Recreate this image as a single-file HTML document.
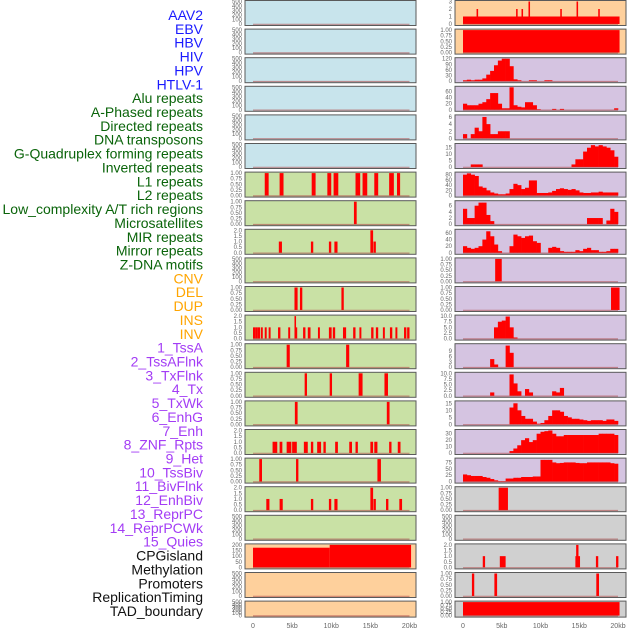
<!DOCTYPE html>
<html><head><meta charset="utf-8"><style>
html,body{margin:0;padding:0;background:#fff;width:630px;height:630px;overflow:hidden}
svg{display:block}
</style></head><body>
<svg id="chart" width="630" height="630" viewBox="0 0 630 630" xmlns="http://www.w3.org/2000/svg"></svg>
<script>
const labels=["AAV2","EBV","HBV","HIV","HPV","HTLV-1","Alu repeats","A-Phased repeats","Directed repeats","DNA transposons","G-Quadruplex forming repeats","Inverted repeats","L1 repeats","L2 repeats","Low_complexity A/T rich regions","Microsatellites","MIR repeats","Mirror repeats","Z-DNA motifs","CNV","DEL","DUP","INS","INV","1_TssA","2_TssAFlnk","3_TxFlnk","4_Tx","5_TxWk","6_EnhG","7_Enh","8_ZNF_Rpts","9_Het","10_TssBiv","11_BivFlnk","12_EnhBiv","13_ReprPC","14_ReprPCWk","15_Quies","CPGisland","Methylation","Promoters","ReplicationTiming","TAD_boundary"];
const groups=["virus","virus","virus","virus","virus","virus","repeat","repeat","repeat","repeat","repeat","repeat","repeat","repeat","repeat","repeat","repeat","repeat","repeat","sv","sv","sv","sv","sv","chrom","chrom","chrom","chrom","chrom","chrom","chrom","chrom","chrom","chrom","chrom","chrom","chrom","chrom","chrom","other","other","other","other","other"];
const xTicks=[0,5,10,15,20];
const xTickLabels=["0","5kb","10kb","15kb","20kb"];
const binWidthKb=0.5;
const yMax=[500,500,500,500,500,500, 1,1,2,500,1,2,1,1,1,2,1,2,500, 200,500,500,
 3,1,120,74,6.3,17.5,86,7.3,68,1,1,10,12.5,10,16,35,88, 1,500,2,1,1];
const yTicks=[
 [0,100,200,300,400,500],[0,100,200,300,400,500],[0,100,200,300,400,500],[0,100,200,300,400,500],[0,100,200,300,400,500],[0,100,200,300,400,500],
 [0,0.25,0.5,0.75,1],[0,0.25,0.5,0.75,1],[0,0.5,1,1.5,2],[0,100,200,300,400,500],[0,0.25,0.5,0.75,1],[0,0.5,1,1.5,2],[0,0.25,0.5,0.75,1],[0,0.25,0.5,0.75,1],[0,0.25,0.5,0.75,1],[0,0.5,1,1.5,2],[0,0.25,0.5,0.75,1],[0,0.5,1,1.5,2],[0,100,200,300,400,500],
 [0,50,100,150,200],[0,100,200,300,400,500],[0,100,200,300,400,500],
 [0,1,2,3],[0,0.25,0.5,0.75,1],[0,30,60,90,120],[0,20,40,60],[0,2,4,6],[0,5,10,15],[0,20,40,60,80],[0,2,4,6],[0,20,40,60],[0,0.25,0.5,0.75,1],[0,0.25,0.5,0.75,1],[0,2.5,5,7.5,10],[0,3,6,9],[0,2.5,5,7.5,10],[0,5,10,15],[0,10,20,30],[0,25,50,75],
 [0,0.25,0.5,0.75,1],[0,100,200,300,400,500],[0,0.5,1,1.5,2],[0,0.25,0.5,0.75,1],[0,0.25,0.5,0.75,1]];
const histTssA=[5,8,5,8,8,15,35,55,85,110,120,120,80,10,5,0,0,5,5,0,0,5,5,0,0,0,0,0,0,0,0,0,0,0,0,0,0,0,0,0];
const histTssAFlnk=[20,15,15,15,20,25,35,55,55,20,5,5,75,15,10,8,25,25,15,2,0,0,0,3,0,3,0,0,0,0,0,0,0,0,0,0,0,0,0,5];
const histTxFlnk=[1.2,0,1.2,3,2,6,4,1.2,1.2,2,2,2,0,0,0,0,0,0,0,0,0,0,0,0,0,0,0,0,0,0,0,0,0,0,0,0,0,0,0,0];
const histTx=[0,0,2,2,2,0,0,0,0,0,0,0,0,0,0,0,0,0,0,0,0,0,0,0,0,0,0,0,2,6,6,12,15,17,16,17,16,15,13,8];
const histTxWk=[80,85,80,75,35,30,20,12,8,5,5,8,25,45,40,25,30,58,58,10,10,10,12,18,25,28,25,22,25,20,12,10,10,12,12,15,12,12,12,12];
const histEnhG=[5,2,2,6,7,7,3,1,0,0,0,0,0,0,0,0,0,0,0,0,0,0,0,0,0,0,0,0,0,0,0,0,2,2,2,2,0,1.2,5,4];
const histEnh=[20,15,12,15,20,40,65,50,25,5,0,0,20,55,50,45,50,52,35,30,0,0,15,18,15,5,3,3,3,8,5,12,15,8,8,3,3,5,12,12];
const histHet=[0,0,0,0,0,0,0,0,5,7.5,8,9.8,5,0.5,0,0,0,0,0,0,0,0,0,0,0,0,0,0,0,0,0,0,0,0,0,0,0,0,0,0];
const histTssBiv=[0,0,0,0,0,0,0,4.5,1.5,0,0,12,8,0,0,0,0,0,0,0,0,0,0,0,0,0,0,0,0,0,0,0,0,0,0,0,0,0,0,0];
const histBivFlnk=[0,0,0,0,0,0,0,1.5,0,0,0,0,9.5,5.5,2,0,3,1.5,0,0,0,0,0,2,1.5,3.5,0,0,0,0,0,0,0,0,0,0,0,0,0,0];
const histEnhBiv=[0,0,0,0,0,0,0,0,0,0,0,0,12,15,10,6,4,4,2,0.5,1,3,6,10,10,9,6,5,4,4,3.5,3,2.5,3,3,3,2.5,3.5,3.5,2.5];
const histReprPC=[0,0,0,0,0,0,0,0,0,0,0,0,3,7,12,20,23,17,20,30,33,34,35,30,26,26,28,28,28,28,28,28,28,28,28,30,30,30,30,28];
const histReprPCWk=[28,25,22,22,22,18,15,10,5,2,2,12,12,15,15,18,18,18,20,20,85,85,85,75,72,73,75,75,75,73,72,72,75,75,75,75,75,75,72,70];
const evL1=[[1.5,0.5,1],[3.4,0.5,1],[7.5,0.5,1],[9.5,0.5,1],[10.3,0.6,1],[13.1,0.6,1],[14.0,0.6,1],[15.5,0.5,1],[17.4,0.6,1],[18.4,0.4,1]];
const evL2=[[12.9,0.35,1]];
const evLowComplexity=[[3.3,0.4,1],[7.4,0.3,1],[9.7,0.3,1],[10.4,0.4,1],[15.0,0.35,2],[15.4,0.3,1]];
const evMIR=[[5.3,0.4,1],[6.0,0.3,1],[11.3,0.3,1]];
const evMirror=[[0.0,0.3,1],[0.3,0.3,1],[0.6,0.3,1],[1.0,0.25,1],[1.5,0.25,1],[2.0,0.25,1],[3.2,0.3,1],[4.5,0.25,1],[5.3,0.2,2],[5.4,0.25,1],[6.4,0.3,1],[7.0,0.35,1],[8.3,0.25,1],[9.7,0.35,1],[10.2,0.3,1],[11.5,0.4,1],[12.8,0.3,1],[13.6,0.25,1],[15.1,0.3,1],[15.7,0.3,1],[16.6,0.25,1],[17.5,0.3,1],[18.2,0.25,1],[19.3,0.3,1],[19.7,0.3,1]];
const evCNV=[[4.3,0.4,1],[11.9,0.4,1]];
const evDEL=[[6.6,0.3,1],[9.8,0.3,1],[13.5,0.5,1],[16.8,0.45,1]];
const evDUP=[[5.35,0.35,1],[17.1,0.35,1]];
const evINS=[[2.5,0.6,1],[3.4,0.35,1],[4.3,0.6,1],[5.0,0.6,1],[6.5,0.5,1],[7.4,0.3,1],[8.2,0.5,1],[9.0,0.3,1],[10.5,0.35,1],[12.3,0.35,1],[13.1,0.3,1],[15.0,0.35,1],[15.5,0.4,1],[17.4,0.3,1],[18.5,0.35,1]];
const evINV=[[0.8,0.35,1],[5.5,0.3,1],[15.9,0.45,1]];
const evTssA=[[1.7,0.4,1],[3.4,0.4,1],[7.4,0.3,1],[9.7,0.3,1],[10.4,0.4,1],[15.0,0.35,2],[15.4,0.3,1],[17.0,0.3,1],[18.7,0.35,1]];
const evCNVstep=[[0,9.8,175],[9.8,10.4,200]];
const evAAV=[[0,20.2,1],[1.75,0.2,2],[6.85,0.2,2],[7.55,0.2,2],[8.45,0.2,3],[12.55,0.2,2],[14.65,0.2,3],[17.45,0.2,2]];
const evEBV=[[0,20.2,1]];
const evZnf=[[4.15,0.85,1]];
const evZnf2=[[19.1,1.1,1]];
const evCPG=[[4.6,1.2,1]];
const evProm=[[2.55,0.3,1],[4.75,0.75,1],[14.5,0.6,1],[14.6,0.3,2],[17.15,0.3,1],[19.75,0.3,1]];
const evRep=[[1.15,0.3,1],[4.05,0.35,1],[17.2,0.35,1]];
const evTAD=[[0,20.2,1]];
const panelData={6:evL1,7:evL2,8:evLowComplexity,10:evMIR,11:evMirror,12:evCNV,13:evDEL,14:evDUP,15:evINS,16:evINV,17:evTssA,19:evCNVstep,
 22:evAAV,23:evEBV,24:histTssA,25:histTssAFlnk,26:histTxFlnk,27:histTx,28:histTxWk,29:histEnhG,30:histEnh,31:evZnf,32:evZnf2,33:histHet,34:histTssBiv,35:histBivFlnk,36:histEnhBiv,37:histReprPC,38:histReprPCWk,39:evCPG,41:evProm,42:evRep,43:evTAD};
const labelColor={virus:"#1a1aff",repeat:"#0a640a",sv:"#ffa500",chrom:"#a33cf5",other:"#111"};
const bgLeft=i=> i<6?"#c8e4ec": i<19?"#c9e1a5":"#fed09c";
const bgRight=i=> i<2?"#fed09c": i<17?"#d5c4e1":"#d0d0d0";

const svg=document.getElementById('chart');
const NS="http://www.w3.org/2000/svg";
function mk(tag,attrs){const e=document.createElementNS(NS,tag);for(const k in attrs)e.setAttribute(k,attrs[k]);return e;}
function decs(v){const s=String(v);const i=s.indexOf('.');return i<0?0:s.length-i-1;}
labels.forEach((t,i)=>{
  const el=mk('text',{x:203,y:15+i*13.86+5,'text-anchor':'end','font-size':'14','font-family':'Liberation Sans, sans-serif',fill:labelColor[groups[i]]});
  el.textContent=t;
  
  
  svg.appendChild(el);
});
const cols=[{L:245,R:416,x0:253,x1:409.5},{L:455,R:626,x0:463,x1:618}];
for(let p=0;p<44;p++){
  const c=p<22?0:1, r=p%22, col=cols[c];
  const top=0.5+r*28.6, h=(r===21?16:25), bot=top+h;
  const xs=kb=>col.x0+(kb/20)*(col.x1-col.x0);
  const ys=v=>bot-1.5-Math.min(v,yMax[p])/yMax[p]*(h-2.5);
  const g=mk('g',{});
  
  
  svg.appendChild(g);
  g.appendChild(mk('rect',{x:col.L,y:top,width:col.R-col.L,height:h,fill:c===0?bgLeft(r):bgRight(r)}));
  const d=panelData[p];
  if(d){
    if(typeof d[0]==='number'){
      d.forEach((v,b)=>{ if(v<=0)return;
        const bar=mk('rect',{x:xs(b*binWidthKb),y:ys(v),width:xs((b+1)*binWidthKb)-xs(b*binWidthKb)+0.3,height:bot-1.5-ys(v),fill:'#ff0000'});
        
        
        g.appendChild(bar);});
    } else {
      d.forEach(e=>{
        const x=xs(e[0]), w=Math.max(xs(e[0]+e[1])-x,1.5);
        const bar=mk('rect',{x:x,y:ys(e[2]),width:w,height:bot-1.5-ys(e[2]),fill:'#ff0000'});
        
        
        g.appendChild(bar);});
    }
  }
  g.appendChild(mk('line',{x1:xs(0),x2:xs(20),y1:bot-1.2,y2:bot-1.2,stroke:'#b05050','stroke-opacity':0.6,'stroke-width':1.2}));
  g.appendChild(mk('rect',{x:col.L,y:top,width:col.R-col.L,height:h,fill:'none',stroke:'#5a5a5a','stroke-width':1}));
  const nd=Math.max(...yTicks[p].map(decs));
  yTicks[p].forEach(v=>{
    const t=mk('text',{x:col.L-3,y:ys(v)+2,'text-anchor':'end','font-size':'6','font-family':'Liberation Sans, sans-serif',fill:'#666'});
    t.textContent=v.toFixed(nd);
    
    
    g.appendChild(t);
  });
}
cols.forEach((col,ci)=>{
  xTicks.forEach((v,i)=>{
    const t=mk('text',{x:col.x0+(v/20)*(col.x1-col.x0),y:628,'text-anchor':'middle','font-size':'7','font-family':'Liberation Sans, sans-serif',fill:'#666'});
    t.textContent=xTickLabels[i];
    
    
    svg.appendChild(t);
  });
});
</script>
</body></html>
